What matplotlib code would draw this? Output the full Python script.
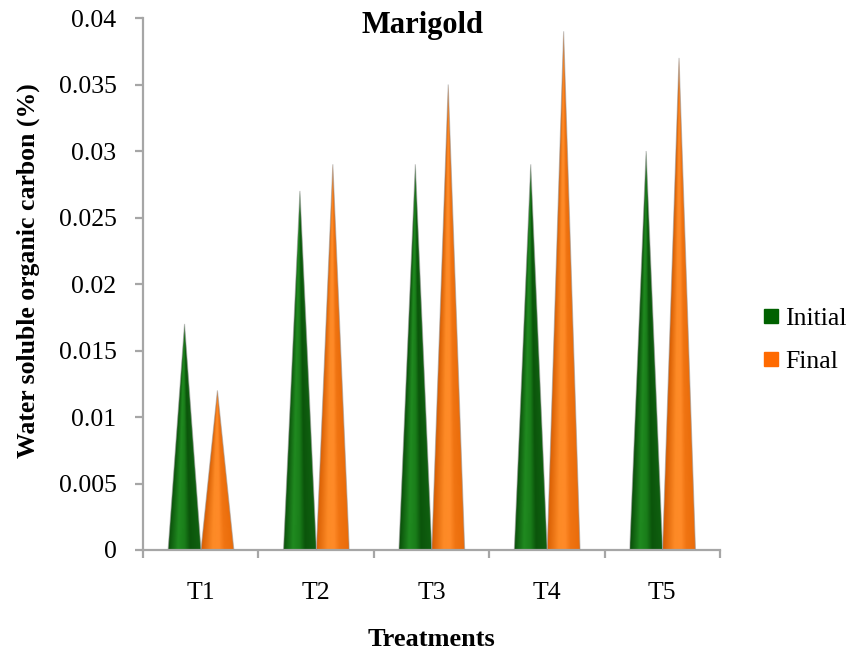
import numpy as np
import matplotlib
matplotlib.use("Agg")
import matplotlib.pyplot as plt
from matplotlib.patches import Polygon
from matplotlib.colors import LinearSegmentedColormap
from matplotlib.lines import Line2D
from matplotlib.ticker import FuncFormatter, FixedLocator

# Water soluble organic carbon (%) per treatment
treatments = ["T1", "T2", "T3", "T4", "T5"]
initial = [0.017, 0.027, 0.029, 0.029, 0.030]
final = [0.012, 0.029, 0.035, 0.039, 0.037]
series_names = ["Initial", "Final"]

plt.rcParams["font.family"] = ["Liberation Serif", "DejaVu Serif"]

W, H = 852, 658
fig = plt.figure(figsize=(W / 100, H / 100), dpi=100)
ax = fig.add_axes([143 / W, 1 - 550 / H, (720 - 143) / W, (550 - 18) / H])

ymax = 0.04
ax.set_xlim(-0.5, len(treatments) - 0.5)
ax.set_ylim(0, ymax)

# cylinder-like shading across the cone width (0 = left edge, 1 = right edge)
green_cmap = LinearSegmentedColormap.from_list(
    "g", [(0.0, "#0a500a"), (0.3, "#208a20"), (0.5, "#1a7e1a"),
          (0.68, "#0b550b"), (1.0, "#106010")])
orange_cmap = LinearSegmentedColormap.from_list(
    "o", [(0.0, "#d85e02"), (0.35, "#fd8a26"), (0.55, "#ff8a28"),
          (0.72, "#f07412"), (1.0, "#ea6c0a")])

width = 0.285
offsets = [-0.14, 0.145]


def draw_cone(xc, value, cmap):
    hw = width / 2
    x0, x1 = xc - hw, xc + hw
    nx, ny = 60, 300
    xs = np.linspace(x0, x1, nx)
    ys = np.linspace(0, value, ny)
    X, Y = np.meshgrid(xs, ys)
    half = hw * np.clip(1 - Y / value, 1e-4, None)
    u = np.clip((X - xc) / half, -1, 1)
    img = (u + 1) / 2
    im = ax.imshow(img, cmap=cmap, vmin=0, vmax=1, origin="lower",
                   extent=[x0, x1, 0, value], aspect="auto",
                   interpolation="bilinear", zorder=2)
    tri = Polygon([[x0, 0], [x1, 0], [xc, value]], closed=True,
                  facecolor="none", edgecolor="none")
    ax.add_patch(tri)
    im.set_clip_path(tri)
    edge = Polygon([[x0, 0], [xc, value], [x1, 0]], closed=False,
                   facecolor="none", edgecolor="#9a9a9a", lw=0.8,
                   alpha=0.55, zorder=3)
    ax.add_patch(edge)


for i in range(len(treatments)):
    draw_cone(i + offsets[0], initial[i], green_cmap)
    draw_cone(i + offsets[1], final[i], orange_cmap)

ax.set_xlim(-0.5, len(treatments) - 0.5)
ax.set_ylim(0, ymax)

# axes styling
axis_color = "#a6a6a6"
for s in ["top", "right"]:
    ax.spines[s].set_visible(False)
for s in ["left", "bottom"]:
    ax.spines[s].set_color(axis_color)
    ax.spines[s].set_linewidth(1.6)

yt = np.arange(0, 0.0401, 0.005)
ax.set_yticks(yt)
ax.yaxis.set_major_formatter(FuncFormatter(lambda v, p: "%g" % round(v, 3)))
ax.tick_params(axis="y", direction="out", length=6, width=1.6,
               color=axis_color, labelsize=18.5, pad=13)

ax.set_xticks(range(len(treatments)))
ax.set_xticklabels(treatments)
ax.xaxis.set_minor_locator(FixedLocator(np.arange(-0.5, len(treatments), 1.0)))
ax.tick_params(axis="x", which="major", length=0, labelsize=18.5, pad=23)
ax.tick_params(axis="x", which="minor", direction="out", length=6,
               width=1.6, color=axis_color)

fig.text(422 / W, 1 - 25 / H, "Marigold", ha="center", va="center",
         fontsize=22, fontweight="bold")
fig.text(28 / W, 1 - 271 / H, "Water soluble organic carbon (%)",
         rotation=90, ha="center", va="center", fontsize=18.5,
         fontweight="bold")
fig.text(431 / W, 1 - 640 / H, "Treatments", ha="center", va="center",
         fontsize=19, fontweight="bold")

handles = [Line2D([], [], marker="s", linestyle="none", markersize=10,
                  markerfacecolor=c, markeredgecolor=c)
           for c in ["#006100", "#ff6a00"]]
fig.legend(handles, series_names, loc="center left",
           bbox_to_anchor=(762 / W, 1 - 340 / H), frameon=False,
           fontsize=18.5, handlelength=0.7, handletextpad=0.2,
           labelspacing=0.75, borderpad=0, borderaxespad=0)

fig.savefig("out.png", dpi=100)
